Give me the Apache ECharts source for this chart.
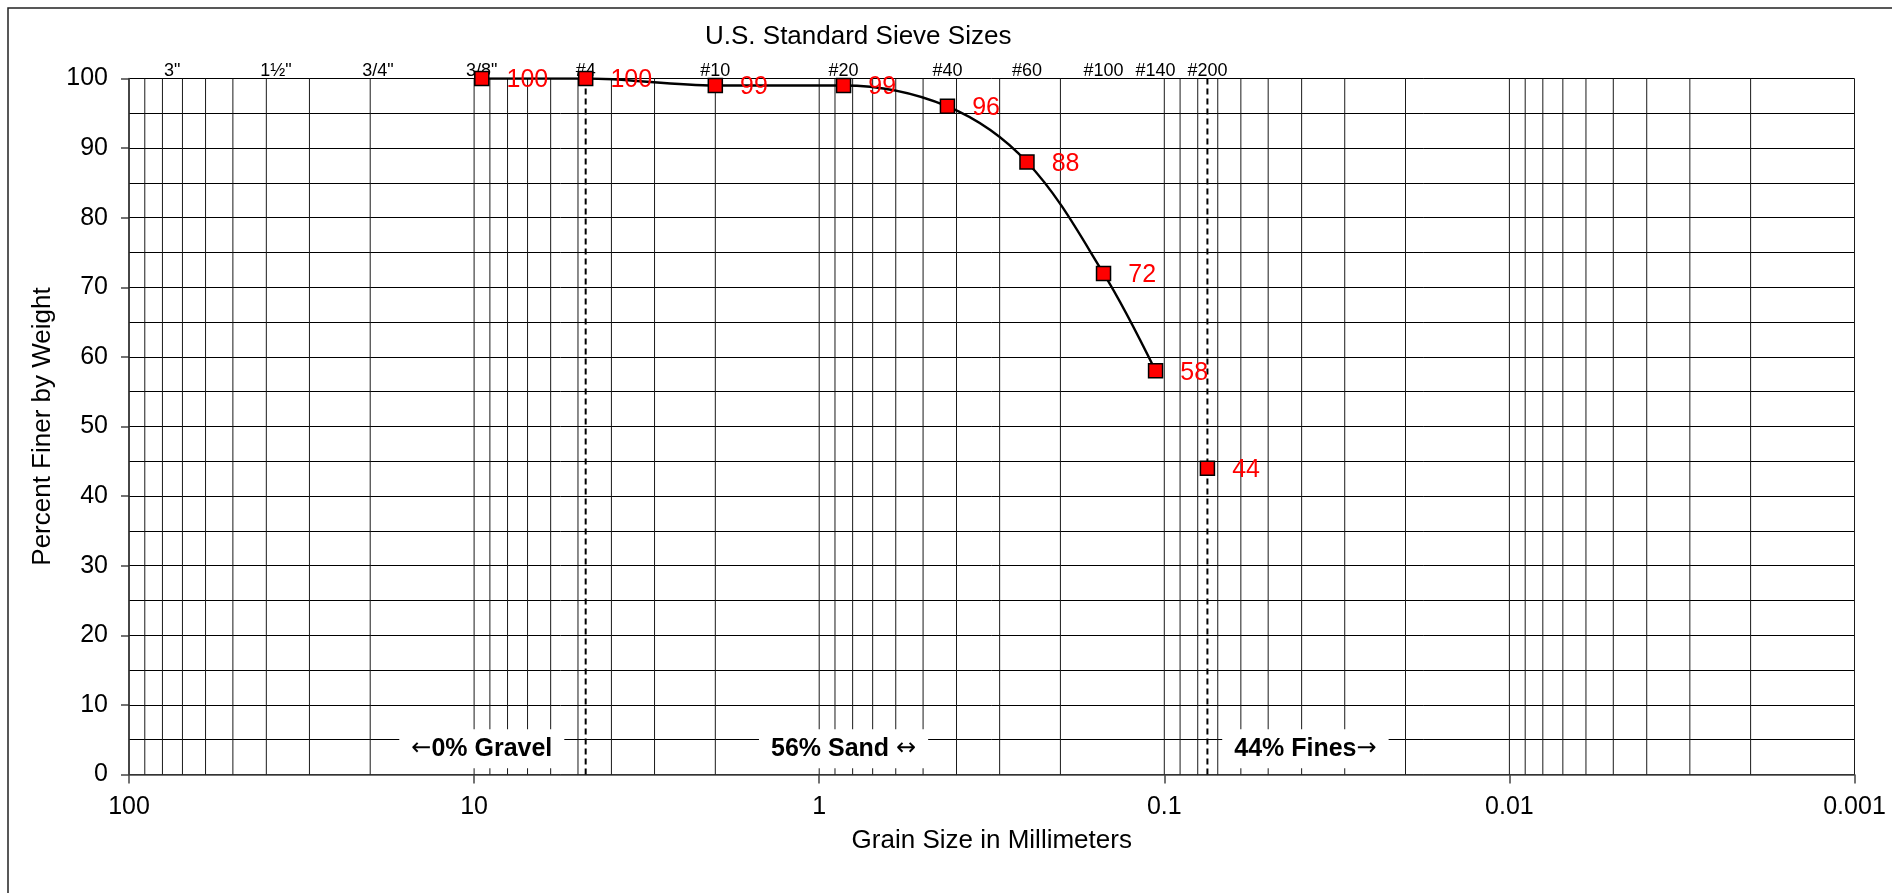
<!DOCTYPE html>
<html>
<head>
<meta charset="utf-8">
<script src="https://cdn.jsdelivr.net/npm/echarts@6/dist/echarts.min.js"></script>
<style>
html,body{margin:0;padding:0;background:#fff;}
#chart{width:1892px;height:893px;}
</style>
</head>
<body>
<div id="chart"></div>
<script>
// ---- Data ----
const sieveNames = ['3"', '1½"', '3/4"', '3/8"', '#4', '#10', '#20', '#40', '#60', '#100', '#140', '#200'];
const sieveOpenings = [75, 37.5, 19, 9.5, 4.75, 2.0, 0.85, 0.425, 0.25, 0.15, 0.106, 0.075];
const testSizes = [9.5, 4.75, 2.0, 0.85, 0.425, 0.25, 0.15, 0.106, 0.075];
const percentFiner = [100, 100, 99, 99, 96, 88, 72, 58, 44];
const curvedCount = 8;               // points joined by the smooth curve
const boundarySizes = [4.75, 0.075]; // gravel/sand and sand/fines limits
const zoneLabels = ['←0% Gravel', '56% Sand ↔', '44% Fines→'];
const zoneX = [9.5, 0.85, 0.039];
const zoneY = [3.7, 3.7, 3.7];
const decades = [0.001, 0.01, 0.1, 1, 10];
const gridMultipliers = [1, 2, 3, 4, 5, 6, 7, 8, 9];

const FONT = "'Liberation Sans', Arial, Helvetica, sans-serif";

// vertical log grid lines
const gridValues = [];
decades.forEach(d => gridMultipliers.forEach(m => gridValues.push(+(d * m).toPrecision(6))));
gridValues.push(100);

// wrap arrow glyphs in a rich-text style so they use a font that has them
function arrowRich(s) {
  return s.replace(/([←→↔])/g, '{a|$1}').split(/(\{a\|[←→↔]\})/).map(part =>
    part.startsWith('{a|') ? part : (part ? '{t|' + part + '}' : '')).join('');
}

const series = [];
gridValues.forEach(v => {
  series.push({
    type: 'line', silent: true, animation: false, symbol: 'none', z: 1,
    data: [[v, 0], [v, 100]],
    lineStyle: { color: '#1a1a1a', width: 1 }
  });
});
boundarySizes.forEach(v => {
  series.push({
    type: 'line', silent: true, animation: false, symbol: 'none', z: 3,
    data: [[v, 0], [v, 100]],
    lineStyle: { color: '#000', width: 2, type: [6, 4] }
  });
});
// sieve size labels along the top
series.push({
  type: 'scatter', silent: true, animation: false, z: 2,
  symbolSize: 1, itemStyle: { color: 'rgba(0,0,0,0)', opacity: 1 },
  data: sieveOpenings.map((s, i) => ({ value: [s, 100], name: sieveNames[i] })),
  label: {
    show: true, position: 'top', distance: -2, opacity: 1,
    formatter: p => p.name,
    fontFamily: FONT, fontSize: 18, color: '#000'
  }
});
// smooth gradation curve
series.push({
  type: 'line', animation: false, z: 4, symbol: 'none', smooth: 0.35,
  data: testSizes.slice(0, curvedCount).map((s, i) => [s, percentFiner[i]]),
  lineStyle: { color: '#000', width: 2.4 }
});
// test points with labels
series.push({
  type: 'scatter', animation: false, z: 6,
  symbol: 'rect', symbolSize: 14,
  itemStyle: { color: '#ff0000', borderColor: '#000', borderWidth: 1.5, opacity: 1 },
  data: testSizes.map((s, i) => [s, percentFiner[i]]),
  label: {
    show: true, position: 'right', distance: 17, offset: [0, 2], opacity: 1,
    formatter: p => String(p.value[1]),
    fontFamily: FONT, fontSize: 25, color: '#ff0000'
  }
});
// zone annotations
series.push({
  type: 'scatter', silent: true, animation: false, z: 7,
  symbolSize: 1, itemStyle: { color: 'rgba(0,0,0,0)', opacity: 1 },
  data: zoneX.map((x, i) => ({ value: [x, zoneY[i]], name: zoneLabels[i] })),
  label: {
    show: true, position: 'inside', opacity: 1,
    formatter: p => arrowRich(p.name),
    color: '#000',
    backgroundColor: '#fff', padding: [7, 12, 7, 12],
    rich: {
      t: { fontFamily: FONT, fontSize: 25, fontWeight: 'bold', color: '#000' },
      a: { fontFamily: "'DejaVu Sans', sans-serif", fontSize: 24, fontWeight: 'normal', color: '#000' }
    }
  }
});

const chart = echarts.init(document.getElementById('chart'), null, { renderer: 'canvas' });
chart.setOption({
  animation: false,
  backgroundColor: '#fff',
  textStyle: { fontFamily: FONT },
  title: {
    text: 'U.S. Standard Sieve Sizes',
    left: 705, top: 24, padding: 0,
    textStyle: { fontFamily: FONT, fontSize: 26, fontWeight: 'normal', color: '#000' }
  },
  graphic: [{
    type: 'rect', silent: true, z: -1,
    shape: { x: 8, y: 8, width: 2000, height: 1000 },
    style: { fill: null, stroke: '#222', lineWidth: 1.5 }
  }],
  grid: { left: 129, right: 37.5, top: 78.5, bottom: 118.5, containLabel: false, outerBoundsMode: 'none' },
  xAxis: {
    type: 'log', logBase: 10, min: 0.001, max: 100, inverse: true,
    name: 'Grain Size in Millimeters', nameLocation: 'middle', nameGap: 53,
    nameTextStyle: { fontFamily: FONT, fontSize: 26, color: '#000' },
    axisLine: { show: true, lineStyle: { color: '#444', width: 1.5 } },
    axisTick: { show: true, length: 9, lineStyle: { color: '#444', width: 1.5 } },
    axisLabel: {
      show: true, margin: 20, fontFamily: FONT, fontSize: 25, color: '#000',
      formatter: v => String(+Number(v).toPrecision(6))
    },
    splitLine: { show: false },
    minorTick: { show: false }, minorSplitLine: { show: false }
  },
  yAxis: {
    type: 'value', min: 0, max: 100, interval: 10,
    name: 'Percent Finer by Weight', nameLocation: 'middle', nameGap: 66,
    nameTextStyle: { fontFamily: FONT, fontSize: 26, color: '#000' },
    axisLine: { show: true, lineStyle: { color: '#444', width: 1.5 } },
    axisTick: { show: true, length: 8, lineStyle: { color: '#444', width: 1.5 } },
    axisLabel: { show: true, margin: 21, fontFamily: FONT, fontSize: 25, color: '#000' },
    splitLine: { show: true, lineStyle: { color: '#000', width: 1 } },
    minorTick: { show: false, splitNumber: 2 },
    minorSplitLine: { show: true, lineStyle: { color: '#000', width: 1 } }
  },
  series: series
});
</script>
</body>
</html>
